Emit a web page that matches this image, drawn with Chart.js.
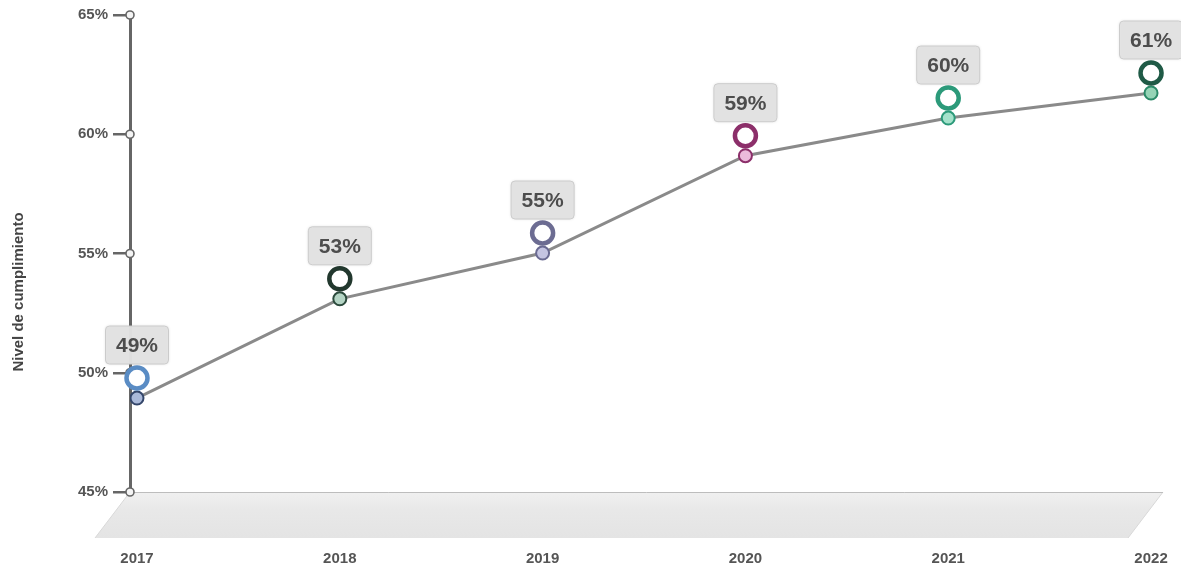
<!DOCTYPE html>
<html>
<head>
<meta charset="utf-8">
<script src="https://cdn.jsdelivr.net/npm/chart.js@4/dist/chart.umd.min.js"></script>
<style>
  html,body{margin:0;padding:0;background:#fff;}
  #wrap{width:1181px;height:573px;position:relative;}
</style>
</head>
<body>
<div id="wrap"><canvas id="c" width="1181" height="573"></canvas></div>
<script>
const years = [2017, 2018, 2019, 2020, 2021, 2022];
const values = [48.94, 53.1, 55.02, 59.1, 60.68, 61.73];
const valueLabels = ["49%", "53%", "55%", "59%", "60%", "61%"];
const yTicks = [45, 50, 55, 60, 65];
const axisTitle = "Nivel de cumplimiento";
const ringColors = ["#5a8cc4", "#22382e", "#6c6c92", "#8c2f6a", "#2c9a7a", "#1f5a46"];
const pointFills = ["#aab9d9", "#b4d4c4", "#c4c4e2", "#ecbadb", "#a4e2cb", "#95d4b6"];
const pointBorders = ["#34466a", "#2c4a3c", "#6a6a92", "#8c2f6a", "#2c9a7a", "#2a8a68"];
const FONT = '"Liberation Sans", Arial, sans-serif';

const decor = {
  id: 'decor',
  beforeDatasetsDraw(chart) {
    const ctx = chart.ctx, a = chart.chartArea;
    const depth = 46, slant = 35;
    ctx.save();
    const g = ctx.createLinearGradient(0, a.bottom, 0, a.bottom + depth);
    g.addColorStop(0, '#f0f0f0');
    g.addColorStop(0.4, '#e8e8e8');
    g.addColorStop(1, '#e4e4e4');
    ctx.beginPath();
    ctx.moveTo(a.left, a.bottom);
    ctx.lineTo(a.right, a.bottom);
    ctx.lineTo(a.right - slant, a.bottom + depth);
    ctx.lineTo(a.left - slant, a.bottom + depth);
    ctx.closePath();
    ctx.fillStyle = g;
    ctx.fill();
    ctx.strokeStyle = '#d8d8d8';
    ctx.lineWidth = 1;
    ctx.beginPath();
    ctx.moveTo(a.left - slant, a.bottom + depth);
    ctx.lineTo(a.left, a.bottom);
    ctx.moveTo(a.right, a.bottom);
    ctx.lineTo(a.right - slant, a.bottom + depth);
    ctx.stroke();
    ctx.strokeStyle = '#bdbdbd';
    ctx.beginPath();
    ctx.moveTo(a.left, a.bottom + 0.5);
    ctx.lineTo(a.right, a.bottom + 0.5);
    ctx.stroke();
    ctx.restore();
  },
  afterDraw(chart) {
    const ctx = chart.ctx, ys = chart.scales.y;
    ctx.save();
    // axis title
    ctx.save();
    ctx.translate(19, 292);
    ctx.rotate(-Math.PI / 2);
    ctx.fillStyle = '#444';
    ctx.font = 'bold 15px ' + FONT;
    ctx.textAlign = 'center';
    ctx.textBaseline = 'middle';
    ctx.fillText(axisTitle, 0, 0);
    ctx.restore();
    // tick end circles on the y axis
    ys.ticks.forEach(t => {
      const py = ys.getPixelForValue(t.value);
      ctx.beginPath();
      ctx.arc(ys.right, py, 4, 0, Math.PI * 2);
      ctx.fillStyle = '#f4f4f4';
      ctx.fill();
      ctx.lineWidth = 1.6;
      ctx.strokeStyle = '#666';
      ctx.stroke();
    });
    // rings and labels
    const meta = chart.getDatasetMeta(0);
    meta.data.forEach((pt, i) => {
      const x = pt.x, y = pt.y;
      const ry = y - 20;
      ctx.beginPath();
      ctx.arc(x, ry, 10.5, 0, Math.PI * 2);
      ctx.fillStyle = '#ffffff';
      ctx.fill();
      ctx.lineWidth = 4.5;
      ctx.strokeStyle = ringColors[i];
      ctx.stroke();
      // label box
      const w = 63, h = 38, bx = x - w / 2, by = ry - 14 - h;
      ctx.beginPath();
      ctx.roundRect(bx, by, w, h, 4);
      ctx.fillStyle = 'rgba(226,226,226,0.97)';
      ctx.shadowColor = 'rgba(0,0,0,0.15)';
      ctx.shadowBlur = 3;
      ctx.fill();
      ctx.shadowBlur = 0;
      ctx.lineWidth = 1;
      ctx.strokeStyle = '#cccccc';
      ctx.stroke();
      ctx.fillStyle = '#4d4d4d';
      ctx.font = 'bold 21px ' + FONT;
      ctx.textAlign = 'center';
      ctx.textBaseline = 'middle';
      ctx.fillText(valueLabels[i], x, by + h / 2 + 1);
    });
    ctx.restore();
  }
};

new Chart(document.getElementById('c'), {
  type: 'line',
  data: {
    datasets: [{
      data: years.map((yr, i) => ({ x: yr, y: values[i] })),
      borderColor: '#8a8a8a',
      borderWidth: 3,
      pointRadius: 6.5,
      pointBorderWidth: 2,
      pointBackgroundColor: pointFills,
      pointBorderColor: pointBorders,
      tension: 0
    }]
  },
  plugins: [decor],
  options: {
    responsive: false,
    animation: false,
    layout: { padding: { top: 15, right: 18, left: 8, bottom: 0 } },
    plugins: { legend: { display: false }, tooltip: { enabled: false } },
    scales: {
      x: {
        type: 'linear',
        min: 2016.9655,
        max: 2022.059,
        afterBuildTicks: s => { s.ticks = years.map(v => ({ value: v })); },
        afterFit: s => { s.height = 81; s.paddingLeft = 0; s.paddingRight = 0; },
        grid: { display: false },
        border: { display: false },
        ticks: {
          padding: 50,
          color: '#555',
          font: { family: FONT, size: 15, weight: 'bold' },
          callback: v => String(v),
          maxRotation: 0
        }
      },
      y: {
        min: 45,
        max: 65,
        afterBuildTicks: s => { s.ticks = yTicks.map(v => ({ value: v })); },
        afterFit: s => { s.width = 122; s.paddingTop = 0; s.paddingBottom = 0; },
        grid: { drawOnChartArea: false, drawTicks: true, tickLength: 17, color: '#666', lineWidth: 2.5 },
        border: { display: true, color: '#666', width: 3 },
        ticks: {
          padding: 5,
          color: '#555',
          font: { family: FONT, size: 15, weight: 'bold' },
          callback: v => v + '%'
        },
        title: { display: false }
      }
    }
  }
});
</script>
</body>
</html>
